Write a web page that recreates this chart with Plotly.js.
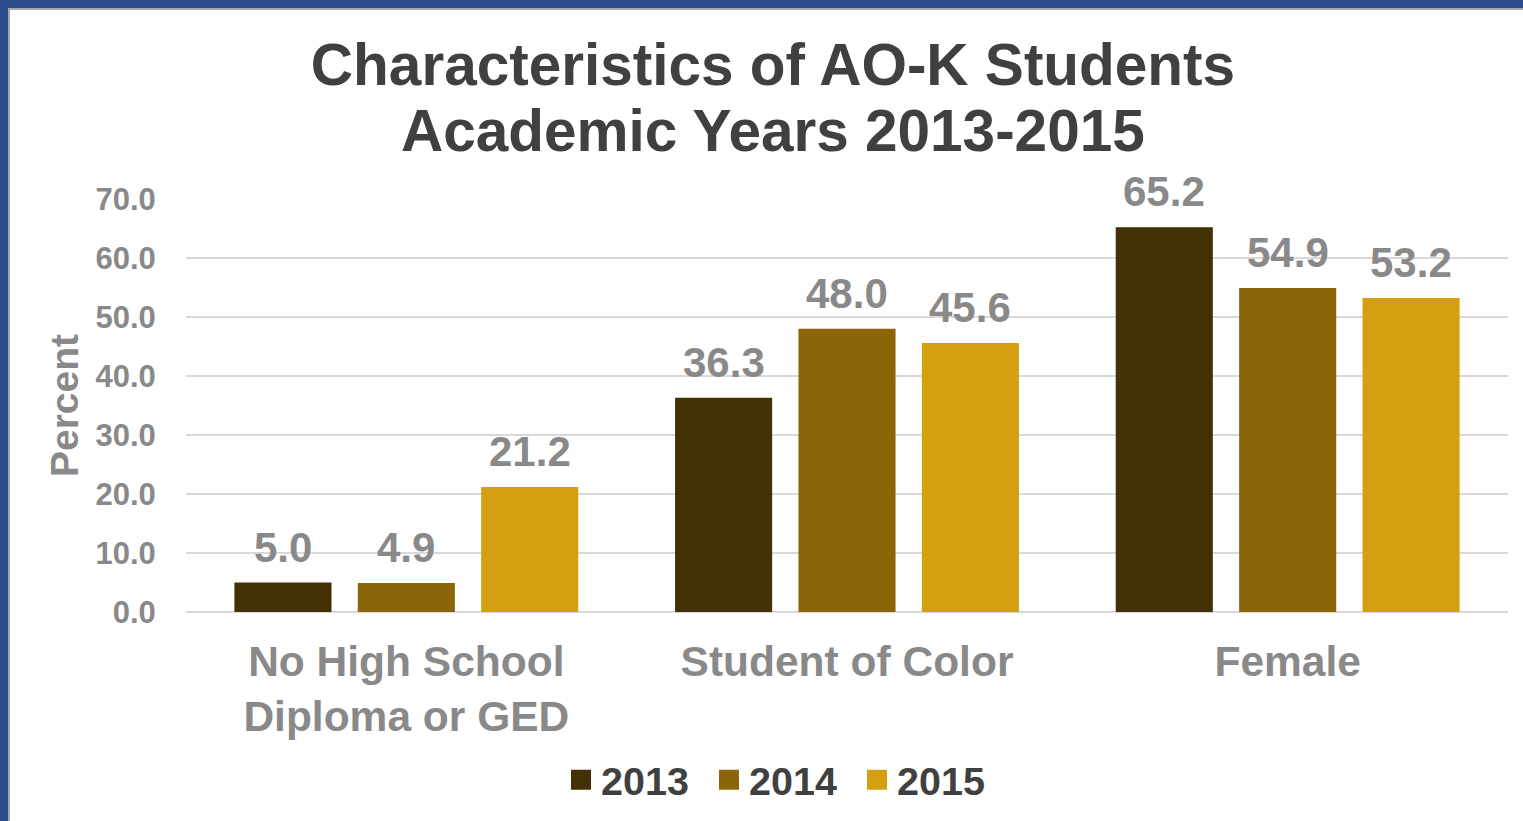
<!DOCTYPE html>
<html>
<head>
<meta charset="utf-8">
<script src="https://cdn.plot.ly/plotly-3.0.1.min.js"></script>
<style>
  html, body { margin: 0; padding: 0; background: #ffffff; }
  #wrap { position: relative; width: 1523px; height: 821px; overflow: hidden; }
  #chart { position: absolute; left: 0; top: 0; width: 1523px; height: 821px; }
  .bt { position: absolute; left: 0; top: 0; width: 1523px; height: 8px; background: #2a4b8d; pointer-events: none; }
  .bl { position: absolute; left: 0; top: 0; width: 8px; height: 821px; background: #2a4b8d; pointer-events: none; }
  .gt { position: absolute; left: 8px; top: 8px; width: 1515px; height: 2px; background: #a6a6a6; pointer-events: none; }
  .gl { position: absolute; left: 8px; top: 8px; width: 2px; height: 813px; background: #a6a6a6; pointer-events: none; }
  #chart g.legendpoints path { d: path("M10,10H-10V-10H10Z"); }
</style>
</head>
<body>
<div id="wrap">
  <div id="chart"></div>
  <div class="bt"></div><div class="bl"></div><div class="gt"></div><div class="gl"></div>
</div>
<script>
const titleLine1 = "Characteristics of AO-K Students";
const titleLine2 = "Academic Years 2013-2015";
const categories = ["No High School<br>Diploma or GED", "Student of Color", "Female"];
const years = ["2013", "2014", "2015"];
const values2013 = [5.0, 36.3, 65.2];
const values2014 = [4.9, 48.0, 54.9];
const values2015 = [21.2, 45.6, 53.2];
const yTicks = [0, 10, 20, 30, 40, 50, 60, 70];

const seriesValues = [values2013, values2014, values2015];
const colors = ["#433104", "#8b6508", "#d4a012"];
const xIdx = categories.map((c, i) => i);

const FONT = "Liberation Sans, Arial, sans-serif";
const bargap = 0.16, bargroupgap = 0.213;
const slot = (1 - bargap) / years.length;

const traces = years.map((yr, s) => ({
  type: "bar",
  name: yr,
  x: xIdx,
  y: seriesValues[s],
  marker: { color: colors[s] },
  hoverinfo: "name+y"
}));

const labelFont = { family: FONT, size: 42, color: "#898989", weight: "bold" };
const annotations = [];
seriesValues.forEach((vals, s) => {
  vals.forEach((v, i) => {
    annotations.push({
      x: i + (s - (years.length - 1) / 2) * slot,
      y: v,
      xref: "x", yref: "y",
      text: v.toFixed(1),
      showarrow: false,
      yanchor: "bottom",
      yshift: 10,
      font: labelFont
    });
  });
});

// second title line
annotations.push({
  xref: "paper", yref: "paper",
  x: (772.5 - 186) / 1322, xanchor: "center",
  y: (612 - 130) / 413, yanchor: "middle",
  text: titleLine2,
  showarrow: false,
  font: { family: FONT, size: 58.5, color: "#404040", weight: "bold" }
});

const layout = {
  width: 1523, height: 821,
  paper_bgcolor: "#ffffff", plot_bgcolor: "#ffffff",
  margin: { l: 186, r: 15, t: 199, b: 209 },
  font: { family: FONT },
  title: {
    text: titleLine1,
    font: { family: FONT, size: 58.5, color: "#404040", weight: "bold" },
    x: 773 / 1523, xanchor: "center", xref: "container",
    y: 1 - 65 / 821, yanchor: "middle", yref: "container"
  },
  barmode: "group",
  bargap: bargap,
  bargroupgap: bargroupgap,
  xaxis: {
    range: [-0.5, categories.length - 0.5],
    tickmode: "array",
    tickvals: xIdx,
    ticktext: categories,
    showgrid: false, zeroline: false, showline: false,
    ticks: "outside", ticklen: 12, tickcolor: "rgba(0,0,0,0)",
    tickfont: { family: FONT, size: 42.5, color: "#898989", weight: "bold" },
    fixedrange: true
  },
  yaxis: {
    range: [0, 70],
    tickmode: "array",
    tickvals: yTicks,
    ticktext: yTicks.map(v => v.toFixed(1)),
    showgrid: true, gridcolor: "#d9d9d9", gridwidth: 2,
    zeroline: true, zerolinecolor: "#d9d9d9", zerolinewidth: 2,
    showline: false,
    ticks: "outside", ticklen: 23, tickcolor: "rgba(0,0,0,0)",
    tickfont: { family: FONT, size: 31, color: "#898989", weight: "bold" },
    title: { text: "Percent", standoff: 4,
      font: { family: FONT, size: 39, color: "#898989", weight: "bold" } },
    fixedrange: true
  },
  legend: {
    orientation: "h",
    xref: "container", yref: "container",
    x: 561 / 1523, xanchor: "left",
    y: 1 - 780 / 821, yanchor: "middle",
    font: { family: FONT, size: 39.5, color: "#404040", weight: "bold" },
    itemwidth: 30,
    entrywidth: 103, entrywidthmode: "pixels",
    traceorder: "normal"
  },
  showlegend: true,
  annotations: annotations
};

Plotly.newPlot("chart", traces, layout, { displayModeBar: false, staticPlot: true });
</script>
</body>
</html>
